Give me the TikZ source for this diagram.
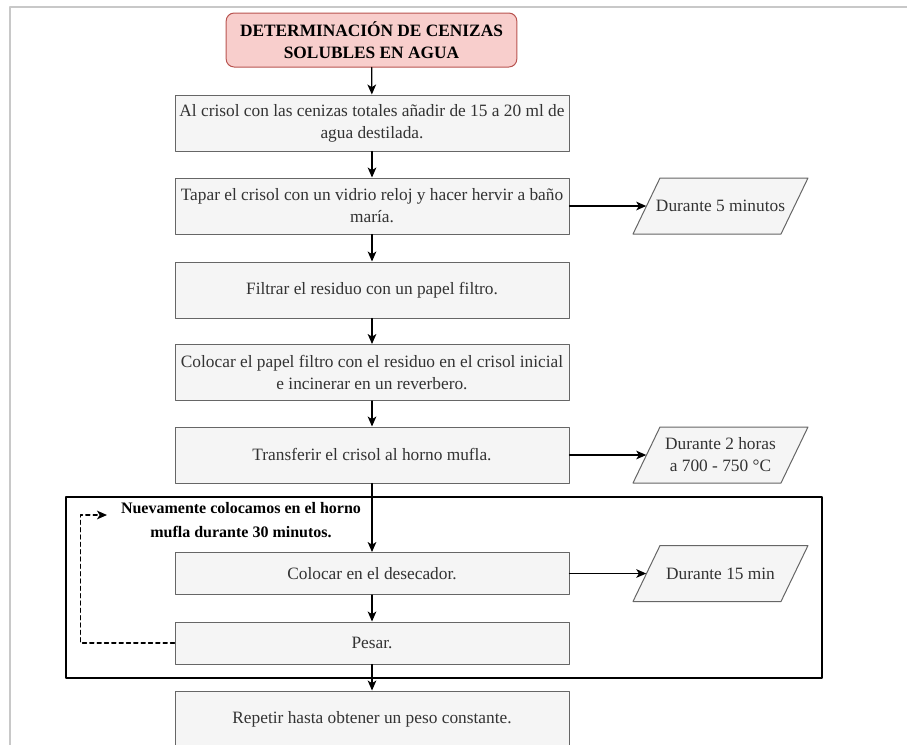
\documentclass[tikz,border=0pt]{standalone}
\usepackage{fontspec}
\setmainfont{Liberation Serif}
\usetikzlibrary{arrows.meta}

\definecolor{cajagris}{HTML}{F5F5F5}
\definecolor{bordegris}{HTML}{666666}
\definecolor{textogris}{HTML}{333333}
\definecolor{titfondo}{HTML}{F8CECC}
\definecolor{titborde}{HTML}{B85450}
\definecolor{marco}{HTML}{C8C8C8}

\begin{document}
\begin{tikzpicture}[line cap=round,line join=round,>={Stealth[length=7.5pt,width=6.5pt,inset=2pt]},x=0.75pt,y=-0.75pt,
    paso/.style={draw=bordegris,fill=cajagris,text=textogris,line width=0.75pt,minimum width=295.5pt,minimum height=42pt,inner sep=2pt,align=center,font=\fontsize{13}{16.5}\selectfont},
    pasocorto/.style={paso,minimum height=31.5pt},
    titulo/.style={draw=titborde,fill=titfondo,rounded corners=6pt,line width=0.75pt,minimum width=218pt,minimum height=40.5pt,align=center,font=\bfseries\fontsize{13}{17}\selectfont},
    dato/.style={text=textogris,minimum width=111pt,minimum height=42pt,inner sep=1pt,align=center,font=\fontsize{13}{16.5}\selectfont},
    datoborde/.style={draw=bordegris,fill=cajagris,line width=0.75pt},
    nota/.style={align=center,inner sep=0pt,font=\bfseries\fontsize{12}{18}\selectfont},
    flecha/.style={->,line width=0.9pt},
    regreso/.style={->,line width=1pt,dash pattern=on 3pt off 2.5pt}]
        \useasboundingbox (0,0) rectangle (907,744);
        \draw [color=marco,line width=1.5pt] (10,760)|- (920,7);
        % pasos del procedimiento
        \node[titulo] (tit) at (371.5,40) {DETERMINACIÓN DE CENIZAS\\SOLUBLES EN AGUA};
        \node[paso] (b1) at (372,123) {Al crisol con las cenizas totales añadir de 15 a 20 ml de\\agua destilada.};
        \node[paso] (b2) at (372,206) {Tapar el crisol con un vidrio reloj y hacer hervir a baño\\maría.};
        \node[paso] (b3) at (372,290) {Filtrar el residuo con un papel filtro.};
        \node[paso] (b4) at (372,372.5) {Colocar el papel filtro con el residuo en el crisol inicial\\e incinerar en un reverbero.};
        \node[paso] (b5) at (372,455) {Transferir el crisol al horno mufla.};
        \node[pasocorto] (b6) at (372,573.5) {Colocar en el desecador.};
        \node[pasocorto] (b7) at (372,643) {Pesar.};
        \node[paso] (b8) at (372,719) {Repetir hasta obtener un peso constante.};
        % tiempos (paralelogramos)
        \foreach \yy in {206,455,573.5}
            \draw [datoborde] (633,\yy+28)-- (660,\yy-28)-- (808,\yy-28)-- (781,\yy+28)-- cycle;
        \node[dato] (d1) at (720.5,206) {Durante 5 minutos};
        \node[dato] (d2) at (720.5,455) {Durante 2 horas\\a 700 - 750 °C};
        \node[dato] (d3) at (720.5,573.5) {Durante 15 min};
        % bloque que se repite
        \draw [line width=1.1pt,color=black] (66,497) rectangle (822,678);
        \node[nota] (rep) at (241,520) {Nuevamente colocamos en el horno\\mufla durante 30 minutos.};
        \coordinate (vuelta) at (107,515);
        \draw [regreso] (b7.west)-- ++(-94,0) |- (vuelta);
        % conectores
        \draw [flecha] (tit)-- (b1);
        \draw [flecha] (b1)-- (b2);
        \draw [flecha] (b2)-- (b3);
        \draw [flecha] (b3)-- (b4);
        \draw [flecha] (b4)-- (b5);
        \draw [flecha] (b5)-- (b6);
        \draw [flecha] (b6)-- (b7);
        \draw [flecha] (b7)-- (b8);
        \draw [flecha] (b2)-- (d1);
        \draw [flecha] (b5)-- (d2);
        \draw [flecha] (b6)-- (d3);
    \end{tikzpicture}
\end{document}
